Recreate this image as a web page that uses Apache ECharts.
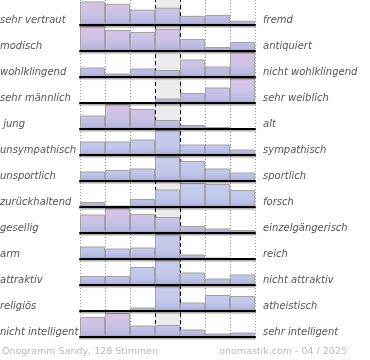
<!DOCTYPE html>
<html><head><meta charset="utf-8">
<script src="https://cdn.jsdelivr.net/npm/echarts@6/dist/echarts.min.js"></script>
<style>html,body{margin:0;padding:0;background:#fff}#c{width:370px;height:360px}</style>
</head><body><div id="c"></div>
<script>
const leftTerms = ["sehr vertraut","modisch","wohlklingend","sehr männlich"," jung","unsympathisch","unsportlich","zurückhaltend","gesellig","arm","attraktiv","religiös","nicht intelligent"];
const rightTerms = ["fremd","antiquiert","nicht wohlklingend","sehr weiblich","alt","sympathisch","sportlich","forsch","einzelgängerisch","reich","nicht attraktiv","atheistisch","sehr intelligent"];
const scale = ["1","2","3","4","5","6","7"];
const vVertraut = [24.5,22,16,18,9.5,10.5,4.5];
const vModisch = [25,21,19,22,12,4,9];
const vWohl = [9.5,3.5,8.5,7,17.5,10.5,25];
const vMaennlich = [0,0,0,4.5,10,15.5,25];
const vJung = [13.5,25,20,9,4,2,1];
const vUnsym = [13.5,13.5,15.5,25,10.5,10.5,5.5];
const vUnsport = [9.5,11,12.5,24.5,20,12.5,8.5];
const vZurueck = [5,1.5,8,17.5,24,23,17];
const vGesellig = [18.5,25,19,16,7,4.5,3];
const vArm = [12.5,10.5,11.5,25,4.5,1.5,0];
const vAttr = [9,9,18,25,12.5,6.5,10.5];
const vRelig = [0,0,3.5,25,8.5,16,15];
const vIntell = [20,24,11.5,12,7.5,3.5,4.5];
const rows = [vVertraut,vModisch,vWohl,vMaennlich,vJung,vUnsym,vUnsport,vZurueck,vGesellig,vArm,vAttr,vRelig,vIntell];
const footLeft = "Onogramm Sandy, 128 Stimmen";
const footRight = "onomastik.com - 04 / 2025";

// style
const pinkRows = [0,1,2,3,4,8,12];
const L = 80, R = 115, STEP = 26;

const chart = echarts.init(document.getElementById('c'));
const grid = [{left:L, right:R, top:0, height:338}];
const xAxis = [{gridIndex:0, type:'value', min:0, max:7, interval:1,
  axisLine:{show:false}, axisTick:{show:false}, axisLabel:{show:false},
  splitLine:{show:true, lineStyle:{color:'#999', type:[1,2], width:1}}}];
const yAxis = [{gridIndex:0, type:'value', min:0, max:1, show:false}];
const series = [
  {type:'scatter', xAxisIndex:0, yAxisIndex:0, data:[[0,0]], symbolSize:0, z:0, silent:true,
   markArea:{silent:true, itemStyle:{color:'#ececec'}, data:[[{xAxis:3},{xAxis:4}]]}},
  {type:'scatter', xAxisIndex:0, yAxisIndex:0, data:[[0,0]], symbolSize:0, z:20, silent:true,
   markLine:{silent:true, symbol:'none', label:{show:false},
     lineStyle:{color:'#000', type:[4,3], width:1}, data:[{xAxis:3},{xAxis:4}]}}
];
const graphic = [];
const lblFont = 'italic 10px "DejaVu Sans"';
rows.forEach((vals, i) => {
  const top = STEP*i - 1;
  const base = top + 26;
  grid.push({left:L, right:R, top:top, height:26});
  xAxis.push({gridIndex:i+1, type:'category', data:scale, boundaryGap:true,
    axisLine:{show:true, lineStyle:{color:'#000', width:2, shadowColor:'rgba(0,0,0,0.35)', shadowOffsetY:1.5, shadowBlur:1}},
    axisTick:{show:false}, axisLabel:{show:false}, splitLine:{show:false}, z:15});
  yAxis.push({gridIndex:i+1, type:'value', min:0, max:26, show:false});
  const pink = pinkRows.includes(i);
  const color = new echarts.graphic.LinearGradient(0, top, 0, base, pink ?
    [{offset:0,color:'#dfc3e4'},{offset:0.55,color:'#c9c3e6'},{offset:0.88,color:'#b9b9e2'},{offset:1,color:'#a39ed2'}] :
    [{offset:0,color:'#c6ceec'},{offset:0.7,color:'#c0c7ea'},{offset:0.9,color:'#b5b8e2'},{offset:1,color:'#a39ed2'}], true);
  series.push({type:'bar', xAxisIndex:i+1, yAxisIndex:i+1, data:vals, barCategoryGap:0, z:5,
    itemStyle:{color:color, borderColor:'#a2a2a2', borderWidth:1}, silent:true});
  graphic.push({type:'text', left:0, top:base-10, style:{text:leftTerms[i], font:lblFont, fill:'#555'}});
  graphic.push({type:'text', left:263, top:base-10, style:{text:rightTerms[i], font:lblFont, fill:'#555'}});
});
graphic.push({type:'text', left:2, top:347, style:{text:footLeft, font:'9.5px "DejaVu Sans"', fill:'#bbb'}});
graphic.push({type:'text', right:23, top:347, style:{text:footRight, font:'9.5px "DejaVu Sans"', fill:'#bbb'}});
chart.setOption({animation:false, grid, xAxis, yAxis, series, graphic});
</script>
</body></html>
